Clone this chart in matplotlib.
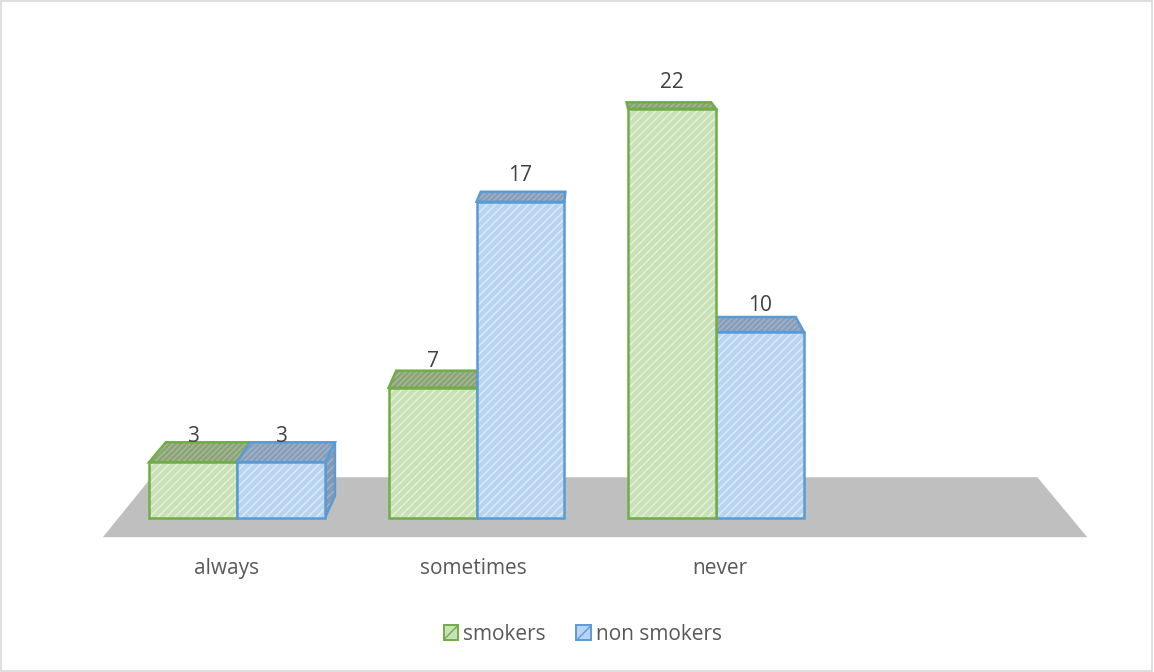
import matplotlib.pyplot as plt
from matplotlib.patches import Polygon, Rectangle, Patch
import numpy as np

plt.rcParams['font.family'] = ['Open Sans', 'DejaVu Sans']
plt.rcParams['hatch.linewidth'] = 1.0

# dane
categories = ['always', 'sometimes', 'never']
series_names = ['smokers', 'non smokers']
smokers = [3, 7, 22]
non_smokers = [3, 17, 10]

# style
front_fill = ['#c9e1b6', '#b9d4f0']
front_hatch = ['#e6f1dc', '#deecfa']
edge_col = ['#70ad47', '#5b9bd5']
top_fill = ['#8ba377', '#879db8']
top_hatch = ['#a6ba95', '#a2b4ca']
side_fill = ['#86a072', '#8399b4']

bar_w = 0.367
xv, yv = 1.47, 31.2      # punkt zbiegu perspektywy
k_bar = 0.038             # glebokosc slupka
k_floor = 0.1             # glebokosc podlogi


def back(x, y, k):
    return x + k * (xv - x), y + k * (yv - y)


def face(ax, pts, fill, hatch_col, edge, hatch='////', z=2):
    ax.add_patch(Polygon(pts, closed=True, facecolor=fill, edgecolor='none', zorder=z))
    ax.add_patch(Polygon(pts, closed=True, facecolor='none', edgecolor=hatch_col,
                         hatch=hatch, linewidth=0, zorder=z))
    ax.add_patch(Polygon(pts, closed=True, facecolor='none', edgecolor=edge,
                         linewidth=1.8, joinstyle='miter', zorder=z))


fig = plt.figure(figsize=(11.54, 6.72), dpi=100)
ax = fig.add_axes([0, 0, 1, 1])
ax.set_xlim(-237 / 239.5, (1154 - 237) / 239.5)
ax.set_ylim(-154 / 18.6, 518 / 18.6)
ax.axis('off')

# szara podloga
fl, fr, fy = -0.56, 3.55, -1.03
bl = back(fl, fy, k_floor)
br = back(fr, fy, k_floor)
ax.add_patch(Polygon([(fl, fy), (fr, fy), br, bl], closed=True,
                     facecolor='#bfbfbf', edgecolor='none', zorder=1))

# slupki
bars = []
for i in range(len(categories)):
    bars.append((i - bar_w, smokers[i], 0))
    bars.append((i, non_smokers[i], 1))
bars.sort(key=lambda b: -abs(b[0] + bar_w / 2 - xv))

for x0, h, s in bars:
    x1 = x0 + bar_w
    tl = back(x0, h, k_bar)
    tr = back(x1, h, k_bar)
    # sciana boczna
    if tr[0] > x1 + 0.01:
        br_ = back(x1, 0, k_bar)
        face(ax, [(x1, 0), (x1, h), tr, br_], side_fill[s], top_hatch[s], edge_col[s])
    if tl[0] < x0 - 0.01:
        bl_ = back(x0, 0, k_bar)
        face(ax, [(x0, 0), (x0, h), tl, bl_], side_fill[s], top_hatch[s], edge_col[s])
    # gora
    face(ax, [(x0, h), (x1, h), tr, tl], top_fill[s], top_hatch[s], edge_col[s], '//////')
    # przod
    face(ax, [(x0, 0), (x1, 0), (x1, h), (x0, h)], front_fill[s], front_hatch[s], edge_col[s])
    ax.text((x0 + x1) / 2, h + 1.4, str(h), ha='center', va='center',
            fontsize=15, color='#404040', zorder=5)

# etykiety kategorii
for i, c in enumerate(categories):
    lx = i - 0.03 * (xv - i)
    ax.text(lx, -2.7, c, ha='center', va='center', fontsize=15, color='#595959')

# legenda
handles = [Patch(facecolor=front_fill[s], edgecolor=edge_col[s], hatch='//', linewidth=1.4)
           for s in range(2)]
leg = fig.legend(handles, series_names, loc='center', bbox_to_anchor=(0.505, 1 - 634 / 672),
                 ncol=2, frameon=False, fontsize=15, handlelength=0.7, handleheight=0.7,
                 handletextpad=0.25, columnspacing=1.45)
for t in leg.get_texts():
    t.set_color('#595959')

# ramka
fig.add_artist(Rectangle((0.001, 0.001), 0.997, 0.997, transform=fig.transFigure,
                         facecolor='none', edgecolor='#d9d9d9', linewidth=1.2))

fig.savefig('out.png', dpi=100)
